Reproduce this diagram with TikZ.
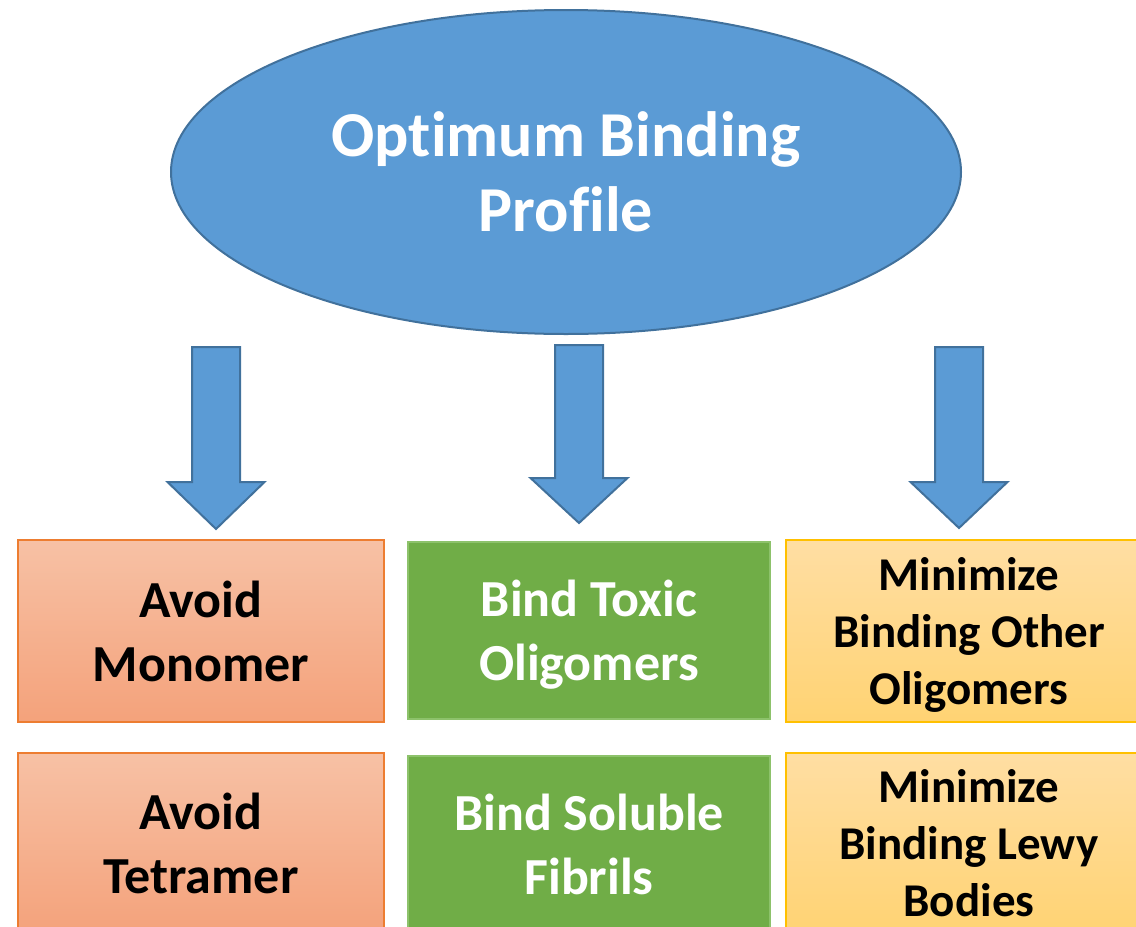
\documentclass[tikz,border=0pt]{standalone}
\usepackage{fontspec}
\setmainfont{Carlito}[Ligatures=NoCommon]
\usetikzlibrary{shapes.geometric}
\definecolor{ellfill}{HTML}{5B9BD5}
\definecolor{elldraw}{HTML}{41719C}
\definecolor{orgtop}{HTML}{F7C1A5}
\definecolor{orgbot}{HTML}{F4A27B}
\definecolor{orgdraw}{HTML}{ED7D31}
\definecolor{grnfill}{HTML}{70AD47}
\definecolor{grndraw}{HTML}{8DC26B}
\definecolor{yeltop}{HTML}{FFDEA3}
\definecolor{yelbot}{HTML}{FFD373}
\definecolor{yeldraw}{HTML}{FFC000}
\newcommand{\blockarrow}[5]{% name, x, top, head start, tip
  \coordinate (#1) at (#2,#3);
  \draw[barrow] (#1) ++(-24,0) -- ++(48,0) -- ++(0,#4-#3) -- ++(24.5,0)
    -- (#2,#5) -- ++(-48.5,#4-#5) -- ++(24.5,0) -- cycle;
}
\begin{document}
\begin{tikzpicture}[x=1pt,y=-1pt,
  barrow/.style={fill=ellfill,draw=elldraw,line width=2pt,line join=miter},
  boxbase/.style={rectangle,line width=2pt,inner sep=0pt,align=center,
    font=\fontsize{52}{64}\selectfont\bfseries},
  boxtext/.style={inner sep=0pt,align=center},
  orangebox/.style={boxbase,draw=orgdraw,top color=orgtop,bottom color=orgbot,
    text=black,minimum width=366pt,minimum height=182pt},
  greenbox/.style={boxbase,draw=grndraw,fill=grnfill,text=white,
    minimum width=362pt,minimum height=177pt},
  yellowbox/.style={boxbase,draw=yeldraw,top color=yeltop,bottom color=yelbot,
    text=black,minimum width=366pt,minimum height=182pt,
    font=\fontsize{47}{57}\selectfont\bfseries}]
\useasboundingbox (0,0) rectangle (1136,927);
\clip (0,0) rectangle (1136,927);

\node[ellipse,fill=ellfill,draw=elldraw,line width=2pt,inner sep=0pt,
  minimum width=790pt,minimum height=324pt,text=white,align=center,
  font=\fontsize{64}{75}\selectfont\bfseries] (top) at (566,172)
  {Optimum Binding\\Profile};

\blockarrow{a1}{216}{347}{482}{529}
\blockarrow{a2}{579}{345}{478}{523}
\blockarrow{a3}{959}{347}{482}{528}

\node[orangebox] (mono) at (201,631) {Avoid\\Monomer};
\node[orangebox] (tetra) at (201,843.5) {Avoid\\Tetramer};
\node[greenbox] (toxic) at (589,630.5) {};
\node[boxtext,text=white,font=\fontsize{52}{64}\selectfont\bfseries]
  (toxict) at ([yshift=-4pt]toxic.center) {Bind Toxic\\Oligomers};
\node[greenbox] (fibr) at (589,844.5) {Bind Soluble\\Fibrils};
\node[yellowbox] (other) at (969,631) {};
\node[boxtext,text=black,font=\fontsize{47}{57}\selectfont\bfseries]
  (othert) at ([yshift=-4pt]other.center) {Minimize\\Binding Other\\Oligomers};
\node[yellowbox] (lewy) at (969,843.5) {Minimize\\Binding Lewy\\Bodies};
\end{tikzpicture}
\end{document}
